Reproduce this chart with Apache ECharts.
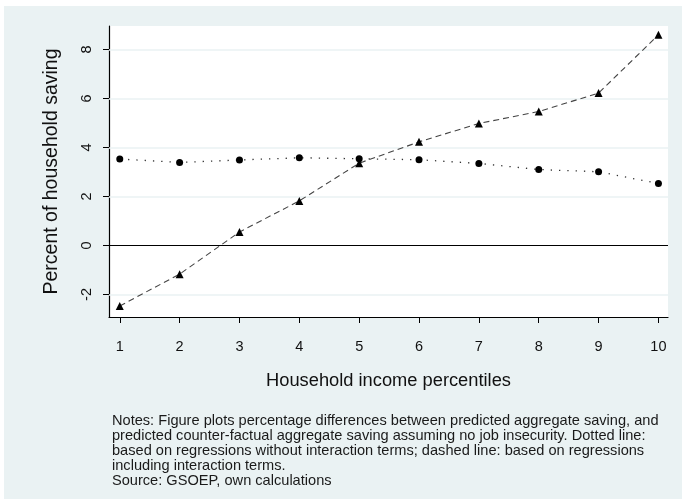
<!DOCTYPE html>
<html>
<head>
<meta charset="utf-8">
<script src="https://cdn.jsdelivr.net/npm/echarts@6/dist/echarts.min.js"></script>
<style>
  html, body { margin: 0; padding: 0; background: #ffffff; }
  #chart { width: 682px; height: 499px; }
</style>
</head>
<body>
<div id="chart"></div>
<script>
// Income deciles on the horizontal axis
const percentiles = [1, 2, 3, 4, 5, 6, 7, 8, 9, 10];
// Dotted line: regressions without interaction terms
const withoutInteraction = [3.53, 3.39, 3.49, 3.58, 3.54, 3.50, 3.35, 3.10, 3.01, 2.53];
// Dashed line: regressions including interaction terms
const withInteraction = [-2.47, -1.17, 0.55, 1.82, 3.36, 4.23, 4.98, 5.47, 6.22, 8.60];
// Axis tick labels
const xTicks = [1, 2, 3, 4, 5, 6, 7, 8, 9, 10];
const yTicks = [-2, 0, 2, 4, 6, 8];

const notes = [
  'Notes: Figure plots percentage differences between predicted aggregate saving, and',
  'predicted counter-factual aggregate saving assuming no job insecurity. Dotted line:',
  'based on regressions without interaction terms; dashed line: based on regressions',
  'including interaction terms.',
  'Source: GSOEP, own calculations'
].join('\n');

const font = '"Liberation Sans", Arial, sans-serif';
const chart = echarts.init(document.getElementById('chart'), null, { renderer: 'canvas' });

const toPairs = (xs, ys) => xs.map((x, i) => [x, ys[i]]);

// Horizontal reference lines: light grid at each tick, black line at zero
const gridLines = yTicks.filter(v => v !== 0).map(v => ({
  yAxis: v, lineStyle: { color: '#eaf2f3', width: 1.5, type: 'solid' }
}));
gridLines.push({ yAxis: 0, lineStyle: { color: '#000000', width: 1.2, type: 'solid' } });

chart.setOption({
  animation: false,
  backgroundColor: '#ffffff',
  graphic: [
    {
      type: 'rect', z: -10, silent: true,
      shape: { x: 4, y: 6, width: 678, height: 493 },
      style: { fill: '#eaf2f3' }
    },
    {
      type: 'text', left: 112, top: 413, silent: true,
      style: {
        text: notes, font: '14.6px ' + font, lineHeight: 15, fill: '#1a1a1a'
      }
    }
  ],
  grid: {
    left: 109, top: 26, right: 14, bottom: 182,
    show: true, backgroundColor: '#ffffff', borderWidth: 0
  },
  xAxis: {
    type: 'value', min: 0.82, max: 10.16,
    name: 'Household income percentiles',
    nameLocation: 'middle', nameGap: 55,
    nameTextStyle: { fontFamily: font, fontSize: 18.3, color: '#111' },
    axisLine: { show: true, onZero: false, lineStyle: { color: '#000', width: 1.2 } },
    axisTick: { show: true, length: 6, customValues: xTicks, lineStyle: { color: '#000' } },
    axisLabel: { customValues: xTicks, margin: 22, fontFamily: font, fontSize: 14.5, color: '#111' },
    splitLine: { show: false }
  },
  yAxis: {
    type: 'value', min: -2.92, max: 8.96,
    name: 'Percent of household saving',
    nameLocation: 'middle', nameGap: 47,
    nameTextStyle: { fontFamily: font, fontSize: 19.5, color: '#111' },
    axisLine: { show: true, onZero: false, lineStyle: { color: '#000', width: 1.2 } },
    axisTick: { show: true, length: 6, customValues: yTicks, lineStyle: { color: '#000' } },
    axisLabel: { customValues: yTicks, rotate: 90, margin: 15, fontFamily: font, fontSize: 14.5, color: '#111' },
    splitLine: { show: false }
  },
  series: [
    {
      name: 'Without interaction terms',
      type: 'line',
      data: toPairs(percentiles, withoutInteraction),
      symbol: 'circle', symbolSize: 7,
      itemStyle: { color: '#000' },
      lineStyle: { color: '#333', width: 1.3, type: [1.3, 7] },
      z: 3,
      markLine: {
        silent: true, symbol: 'none', label: { show: false },
        data: gridLines, z: 1
      }
    },
    {
      name: 'Including interaction terms',
      type: 'line',
      data: toPairs(percentiles, withInteraction),
      symbol: 'triangle', symbolSize: 8,
      itemStyle: { color: '#000' },
      lineStyle: { color: '#444', width: 1.1, type: [6, 4] },
      z: 3
    }
  ]
});
</script>
</body>
</html>
